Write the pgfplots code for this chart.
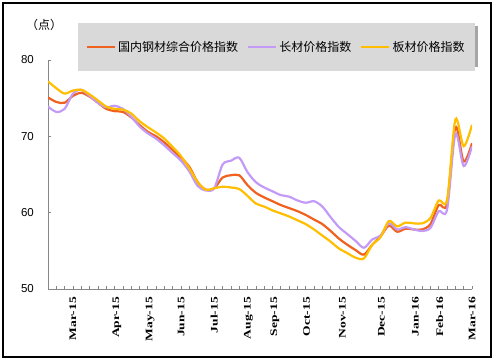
\documentclass[border=0pt]{standalone}
\usepackage{graphicx}
\usepackage{pgfplots}
\usepackage{pgfplotstable}
\pgfplotsset{compat=1.18}
\usepackage{fontspec}
\setmainfont{Liberation Sans}
\newfontfamily\cjk{Noto Sans CJK SC}
\newfontfamily\serifb{Liberation Serif}
\definecolor{cO}{HTML}{F0601E}
\definecolor{cP}{HTML}{C39BF7}
\definecolor{cY}{HTML}{FFBF00}
\definecolor{axgray}{HTML}{868686}
\definecolor{leggray}{HTML}{D9D9D9}
\definecolor{shadgray}{HTML}{A6A6A6}
\newcommand{\xl}[1]{\scalebox{1.35}[1]{#1}}

\pgfplotstableread{
i o p y
0 75.1 73.9 77.2
1 74.5 73.2 76.3
2 74.4 73.6 75.6
3 75.3 75.6 76.0
4 75.7 76.1 76.1
5 75.2 75.3 75.5
6 74.4 74.4 74.7
7 73.6 73.8 73.9
8 73.3 74.0 73.6
9 73.2 73.6 73.5
10 72.5 72.6 73.0
11 71.5 71.3 72.0
12 70.6 70.4 71.2
13 70.0 69.7 70.5
14 69.2 68.8 69.7
15 68.2 67.8 68.6
16 67.2 66.8 67.4
17 66.0 65.4 65.8
18 64.0 63.5 64.0
19 63.0 62.9 63.0
20 63.2 63.2 63.2
21 64.6 66.3 63.4
22 64.9 66.8 63.3
23 64.9 67.2 63.1
24 63.6 65.3 62.2
25 62.6 64.0 61.2
26 62.0 63.3 60.8
27 61.5 62.8 60.3
28 61.0 62.3 59.9
29 60.6 62.1 59.5
30 60.2 61.6 59.0
31 59.7 61.3 58.5
32 59.1 61.5 57.8
33 58.5 60.8 57.0
34 57.6 59.4 56.2
35 56.6 58.1 55.3
36 55.8 57.2 54.7
37 55.1 56.3 54.1
38 54.5 55.4 54.0
39 55.8 56.5 55.8
40 56.9 57.0 56.8
41 58.3 58.6 58.9
42 57.5 57.8 58.2
43 57.9 58.1 58.7
44 57.8 57.8 58.6
45 57.8 57.6 58.6
46 58.5 58.0 59.3
47 61.0 60.2 61.6
48 61.2 60.4 61.7
49 71.2 70.3 72.2
50 66.7 66.1 68.7
51 69.1 68.7 71.5
}\datatable

\begin{document}
\begin{tikzpicture}
\useasboundingbox (0,0) rectangle (496bp,364bp);
\draw[black, line width=1.2bp] (3bp,7bp) rectangle (491bp,361bp);
\node[font=\cjk\fontsize{12bp}{13bp}\selectfont] at (44bp,339bp) {（点）};
% legend shadow
\fill[shadgray] (81bp,297bp) rectangle (478bp,338bp);
\begin{axis}[
  at={(48bp,75bp)}, anchor=south west, scale only axis,
  width=424bp, height=229bp,
  xmin=0, xmax=51, ymin=50, ymax=80,
  axis x line=bottom, axis y line=left,
  axis line style={-, draw=axgray, line width=0.8bp},
  tick align=inside, major tick length=3bp,
  tick style={axgray, line width=0.6bp},
  xtick={0,...,51}, xticklabels={},
  ytick={50,60,70,80},
  yticklabel style={font=\fontsize{11.5bp}{12bp}\selectfont, inner sep=0pt, xshift=-14bp},
  /pgf/number format/assume math mode=true,
  extra x ticks={3,8.3,12.3,16,20,24.1,27.3,31.1,35.4,40.1,44.2,47.1,51},
  extra x tick labels={\xl{Mar-15},\xl{Apr-15},\xl{May-15},\xl{Jun-15},\xl{Jul-15},\xl{Aug-15},\xl{Sep-15},\xl{Oct-15},\xl{Nov-15},\xl{Dec-15},\xl{Jan-16},\xl{Feb-16},\xl{Mar-16}},
  extra x tick style={major tick length=0pt,
    xticklabel style={yshift=-8bp, rotate=90, anchor=east, inner sep=0pt,
      font=\serifb\bfseries\fontsize{10bp}{10bp}\selectfont}},
  legend columns=3,
  legend cell align=left,
  legend style={at={(0.0708,1.1616)}, anchor=north west,
    fill=leggray, draw=none, outer sep=0pt,
    font=\cjk\fontsize{12bp}{14bp}\selectfont,
    inner xsep=8bp, inner ysep=16bp,
    /tikz/every even column/.append style={column sep=7bp}},
  legend image code/.code={\draw[#1] (0bp,0bp) -- (28bp,0bp);},
  every axis plot/.append style={line width=2.2bp, smooth, no markers},
]
\addplot[cO] table[x=i, y=o] {\datatable};
\addlegendentry{国内钢材综合价格指数}
\addplot[cP] table[x=i, y=p] {\datatable};
\addlegendentry{长材价格指数}
\addplot[cY] table[x=i, y=y] {\datatable};
\addlegendentry{板材价格指数}
\end{axis}
\end{tikzpicture}
\end{document}
